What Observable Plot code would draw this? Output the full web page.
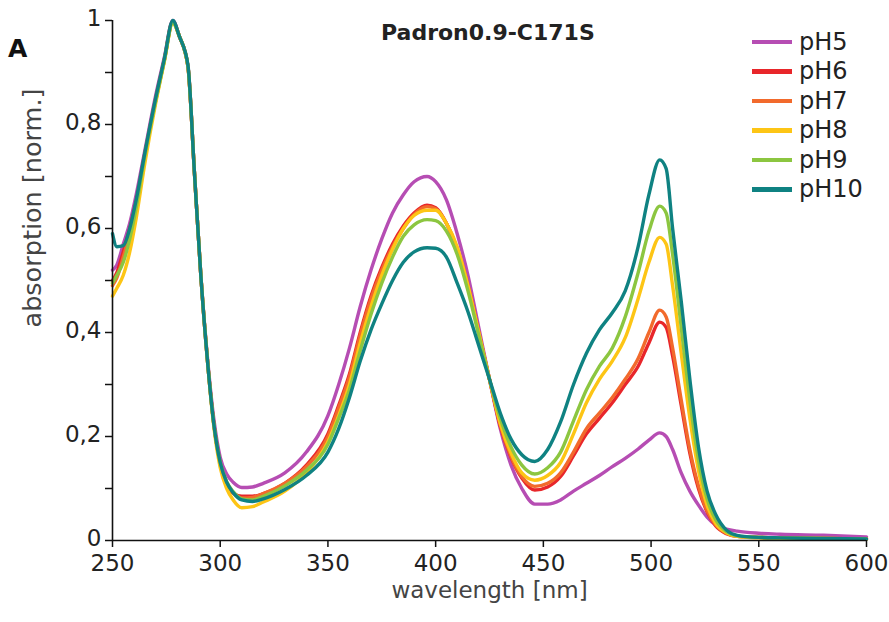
<!DOCTYPE html>
<html>
<head>
<meta charset="utf-8">
<script src="https://cdn.jsdelivr.net/npm/d3@7"></script>
<script src="https://cdn.jsdelivr.net/npm/@observablehq/plot@0.6"></script>
<style>
  body { margin: 0; background: #fff; }
  #wrap { position: relative; width: 889px; height: 622px; font-family: "DejaVu Sans", sans-serif; color: #222; }
  #title { position: absolute; left: 381px; top: 20px; font-weight: bold; font-size: 22px; white-space: nowrap; color: #222; }
  #panel { position: absolute; left: 8px; top: 34px; font-weight: bold; font-size: 25px; color: #111; }
  #ylabel { position: absolute; left: 32px; top: 208px; transform: translate(-50%, -50%) rotate(-90deg); font-size: 25.5px; white-space: nowrap; color: #444; }
  #legend { position: absolute; left: 752px; top: 27px; }
  .row { height: 29.5px; display: flex; align-items: center; }
  .sw { width: 40px; height: 4.5px; margin-right: 7px; }
  .lab { font-size: 24px; color: #222; line-height: 24px; }
</style>
</head>
<body>
<div id="wrap">
  <div id="chart"></div>
  <div id="title">Padron0.9-C171S</div>
  <div id="panel">A</div>
  <div id="ylabel">absorption [norm.]</div>
  <div id="legend"></div>
</div>
<script>
// wavelength grid (nm)
const wavelength = [250,252,255,258,261,265,270,274,278,281,285,288,291,294,297,300,303,306,310,315,320,330,340,350,355,360,365,370,375,380,385,390,396,400,405,410,415,420,425,430,435,440,446,452,458,464,470,476,482,488,494,499,504,507,510,514,518,522,526,530,535,540,550,560,580,600];

const pH5 = [0.52,0.53,0.57,0.61,0.665,0.75,0.855,0.928,1.0,0.97,0.913,0.71,0.51,0.355,0.235,0.16,0.128,0.112,0.102,0.103,0.11,0.13,0.17,0.24,0.30,0.37,0.45,0.52,0.58,0.63,0.665,0.69,0.70,0.69,0.655,0.59,0.51,0.41,0.31,0.215,0.145,0.10,0.07,0.07,0.078,0.095,0.11,0.125,0.142,0.158,0.176,0.193,0.207,0.2,0.175,0.13,0.095,0.068,0.045,0.03,0.022,0.018,0.014,0.012,0.01,0.007];
const pH6 = [0.50,0.515,0.555,0.60,0.652,0.742,0.847,0.923,0.998,0.97,0.913,0.71,0.51,0.35,0.225,0.148,0.11,0.091,0.085,0.085,0.09,0.11,0.145,0.205,0.26,0.32,0.40,0.47,0.525,0.57,0.605,0.63,0.645,0.64,0.61,0.56,0.49,0.40,0.31,0.22,0.16,0.12,0.097,0.103,0.123,0.163,0.205,0.235,0.265,0.30,0.335,0.38,0.42,0.41,0.355,0.26,0.168,0.10,0.055,0.028,0.013,0.008,0.006,0.005,0.004,0.003];
const pH7 = [0.49,0.505,0.545,0.59,0.645,0.74,0.845,0.922,0.997,0.97,0.912,0.71,0.51,0.35,0.225,0.148,0.11,0.092,0.082,0.083,0.09,0.11,0.142,0.20,0.255,0.315,0.395,0.465,0.52,0.565,0.60,0.627,0.642,0.638,0.61,0.56,0.49,0.40,0.31,0.222,0.162,0.123,0.104,0.11,0.13,0.17,0.215,0.245,0.275,0.31,0.35,0.40,0.443,0.43,0.37,0.27,0.175,0.105,0.057,0.03,0.014,0.008,0.006,0.005,0.004,0.003];
const pH8 = [0.47,0.485,0.51,0.555,0.62,0.725,0.84,0.92,0.995,0.97,0.912,0.71,0.51,0.35,0.22,0.14,0.10,0.078,0.063,0.065,0.074,0.095,0.13,0.19,0.24,0.30,0.38,0.45,0.51,0.56,0.60,0.625,0.635,0.635,0.61,0.565,0.49,0.40,0.31,0.225,0.168,0.13,0.116,0.125,0.15,0.205,0.265,0.31,0.345,0.39,0.465,0.535,0.583,0.57,0.49,0.36,0.235,0.135,0.068,0.033,0.015,0.008,0.005,0.004,0.004,0.003];
const pH9 = [0.495,0.51,0.535,0.58,0.64,0.74,0.845,0.922,0.995,0.97,0.912,0.71,0.51,0.35,0.225,0.15,0.113,0.094,0.08,0.078,0.085,0.105,0.135,0.185,0.235,0.29,0.365,0.435,0.495,0.545,0.585,0.607,0.617,0.615,0.595,0.55,0.48,0.395,0.31,0.235,0.18,0.145,0.128,0.14,0.17,0.23,0.29,0.335,0.37,0.43,0.515,0.595,0.643,0.63,0.55,0.41,0.27,0.155,0.08,0.04,0.017,0.009,0.006,0.005,0.004,0.003];
const pH10 = [0.59,0.565,0.567,0.60,0.655,0.745,0.85,0.925,1.0,0.97,0.915,0.71,0.51,0.35,0.225,0.15,0.112,0.092,0.078,0.075,0.08,0.098,0.125,0.17,0.215,0.275,0.345,0.405,0.455,0.50,0.535,0.555,0.563,0.562,0.545,0.495,0.44,0.375,0.31,0.245,0.195,0.165,0.152,0.175,0.228,0.30,0.36,0.405,0.438,0.48,0.565,0.665,0.732,0.715,0.60,0.46,0.31,0.18,0.095,0.05,0.02,0.01,0.006,0.005,0.004,0.003];

const seriesNames = ["pH5","pH6","pH7","pH8","pH9","pH10"];
const seriesColors = ["#b64db3","#e8262a","#f26a2c","#fdc515","#8cc640","#0f8282"];
const seriesValues = [pH5, pH6, pH7, pH8, pH9, pH10];
const xTicks = [250,300,350,400,450,500,550,600];
const yTicks = [0,0.2,0.4,0.6,0.8,1];
const yMinorTicks = [0.1,0.3,0.5,0.7,0.9];

const data = seriesNames.flatMap((name, i) =>
  wavelength.map((w, j) => ({series: name, wavelength: w, absorption: seriesValues[i][j]})));

const yFmt = d => (d === 0 ? "0" : d === 1 ? "1" : String(d).replace(".", ","));

const chart = Plot.plot({
  width: 889,
  height: 622,
  marginLeft: 112,
  marginRight: 23,
  marginTop: 20,
  marginBottom: 82,
  style: {fontFamily: "DejaVu Sans", fontSize: "23px", color: "#222", background: "#fff", overflow: "visible"},
  x: {domain: [250, 600]},
  y: {domain: [0, 1]},
  color: {domain: seriesNames, range: seriesColors},
  marks: [
    Plot.line(data, {x: "wavelength", y: "absorption", z: "series", stroke: "series",
      strokeWidth: 3.4, curve: "monotone-x", strokeLinejoin: "round", strokeLinecap: "round"}),
    Plot.ruleX([250], {stroke: "#111", strokeWidth: 1.6}),
    Plot.ruleY([0], {stroke: "#111", strokeWidth: 1.6}),
    Plot.axisX({ticks: xTicks, tickSize: 7, tickPadding: 7, tickFormat: d => String(d),
      stroke: "#111", strokeWidth: 1.5, fill: "#222",
      label: "wavelength [nm]", labelAnchor: "center", labelArrow: "none", labelOffset: 57}),
    Plot.axisY({ticks: yTicks, tickSize: 7, tickPadding: 4, tickFormat: yFmt,
      stroke: "#111", strokeWidth: 1.5, fill: "#222", label: null}),
    Plot.axisY({ticks: yMinorTicks, tickSize: 7, tickFormat: () => "",
      stroke: "#111", strokeWidth: 1.5, label: null})
  ]
});
document.getElementById("chart").appendChild(chart);
chart.querySelectorAll("g[aria-label='x-axis label'] text").forEach(t => t.setAttribute("fill", "#444"));
chart.querySelectorAll("g[aria-label='y-axis tick label']").forEach(g => {
  const tr = g.getAttribute("transform") || "";
  g.setAttribute("transform", (tr + " translate(0,-2)").trim());
});

const legend = document.getElementById("legend");
seriesNames.forEach((name, i) => {
  const row = document.createElement("div");
  row.className = "row";
  const sw = document.createElement("span");
  sw.className = "sw";
  sw.style.background = seriesColors[i];
  const lab = document.createElement("span");
  lab.className = "lab";
  lab.textContent = name;
  row.appendChild(sw);
  row.appendChild(lab);
  legend.appendChild(row);
});
</script>
</body>
</html>
